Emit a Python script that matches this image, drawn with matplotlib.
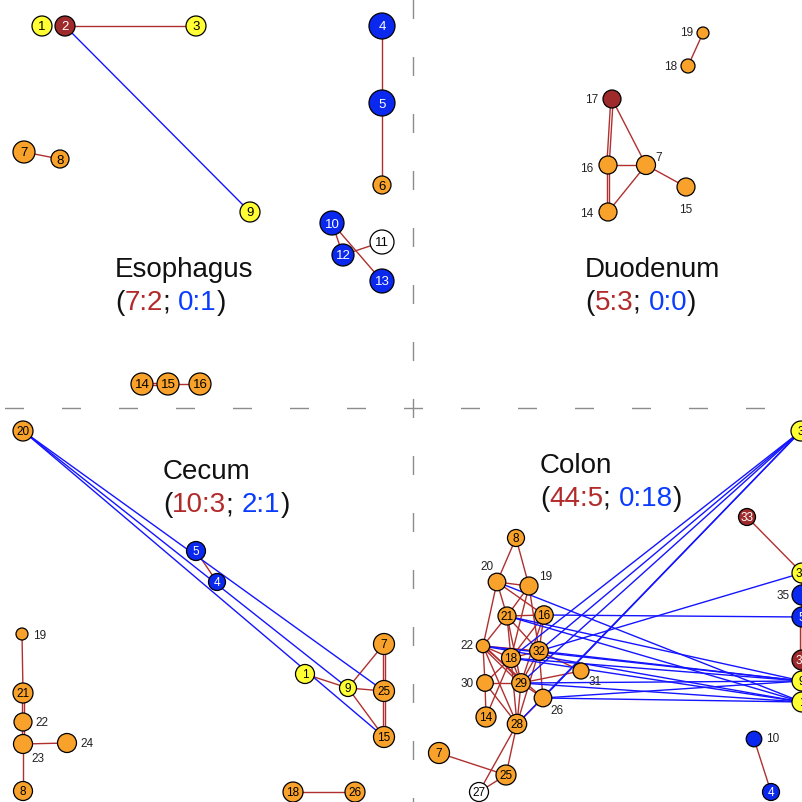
import matplotlib
matplotlib.use("Agg")
import matplotlib.pyplot as plt
import numpy as np

plt.rcParams['font.family'] = ['Liberation Sans', 'DejaVu Sans']
plt.rcParams['lines.scale_dashes'] = False

# ---------------- data ----------------
# node type codes: Y yellow, R dark red, B blue, O orange, W white
# ---- Esophagus ----
eso_ids = [1, 2, 3, 4, 5, 6, 7, 8, 9, 10, 11, 12, 13, 14, 15, 16]
eso_x = [42, 65, 196, 382, 382, 382, 24, 60, 250, 332, 382, 343, 382, 142, 168, 200]
eso_y = [27, 27, 27, 27, 104, 186, 153, 160, 213, 224, 243, 256, 282, 385, 385, 385]
eso_type = ['Y', 'R', 'Y', 'B', 'B', 'O', 'O', 'O', 'Y', 'B', 'W', 'B', 'B', 'O', 'O', 'O']
eso_radius = [10, 10, 10, 13, 13, 9, 11, 9, 10, 12, 12, 11, 12, 11, 11, 11]
eso_red = [(2, 3, 1), (4, 5, 1), (5, 6, 1), (7, 8, 1), (10, 12, 1), (10, 13, 1),
           (12, 11, 1), (14, 15, 2), (15, 16, 1)]
eso_blue = [(2, 9, 1)]
eso_name = 'Esophagus'
eso_counts = ['7:2', '0:1']

# ---- Duodenum ----
duo_ids = [19, 18, 17, 16, 7, 15, 14]
duo_x = [703, 688, 612, 608, 646, 686, 608]
duo_y = [34, 67, 100, 166, 166, 188, 213]
duo_type = ['O', 'O', 'R', 'O', 'O', 'O', 'O']
duo_radius = [6, 7, 9, 9, 9.5, 9, 9]
duo_red = [(19, 18, 1), (17, 16, 2), (17, 7, 1), (16, 7, 1), (16, 14, 2), (7, 14, 1), (7, 15, 1)]
duo_blue = []
duo_name = 'Duodenum'
duo_counts = ['5:3', '0:0']

# ---- Cecum ----
cec_ids = [20, 5, 4, 1, 9, 7, 25, 15, 19, 21, 22, 23, 24, 8, 18, 26]
cec_x = [23, 196, 217, 305, 348, 384, 384, 384, 22, 23, 23, 23, 67, 23, 293, 355]
cec_y = [432, 552, 583, 675, 689, 645, 692, 738, 635, 694, 723, 745, 744, 792, 793, 793]
cec_type = ['O', 'B', 'B', 'Y', 'Y', 'O', 'O', 'O', 'O', 'O', 'O', 'O', 'O', 'O', 'O', 'O']
cec_radius = [10, 9.5, 8.5, 9.5, 8.5, 10.5, 10.5, 10.5, 6, 10, 9, 9.5, 9.5, 9.5, 10, 10]
cec_red = [(4, 5, 1), (1, 9, 1), (9, 7, 1), (9, 25, 1), (9, 15, 1), (7, 25, 2), (25, 15, 2),
           (19, 21, 1), (21, 22, 2), (22, 23, 2), (23, 24, 1), (23, 8, 1), (18, 26, 1)]
cec_blue = [(20, 25, 1), (20, 9, 1), (20, 15, 1)]
cec_name = 'Cecum'
cec_counts = ['10:3', '2:1']

# ---- Colon ----
col_ids = [8, 20, 19, 21, 16, 22, 18, 32, 31, 30, 29, 26, 14, 28, 7, 25, 27,
           33, 3, 34, 35, 5, 36, 9, 1, 10, 4]
col_x = [516, 497, 529, 507, 544, 483, 511, 539, 581, 485, 521, 543, 486, 517, 439, 506, 479,
         747, 801, 802, 802, 802, 802, 802, 802, 754, 771]
col_y = [539, 583, 587, 617, 616, 647, 659, 652, 672, 684, 684, 699, 718, 725, 754, 776, 793,
         518, 432, 574, 596, 618, 661, 682, 703, 740, 793]
col_type = ['O', 'O', 'O', 'O', 'O', 'O', 'O', 'O', 'O', 'O', 'O', 'O', 'O', 'O', 'O', 'O', 'W',
            'R', 'Y', 'Y', 'B', 'B', 'R', 'Y', 'Y', 'B', 'B']
col_radius = [8.5, 8.8, 9, 9, 9.2, 6.7, 9.5, 9.3, 8, 8.3, 9.3, 8.8, 10, 9.7, 10.5, 10, 9.5,
              8.5, 10, 10, 10, 10, 10, 10, 10, 7.8, 8.5]
col_red = [(8, 20, 1), (8, 19, 1), (20, 19, 1), (20, 21, 1), (20, 22, 1), (20, 16, 1),
           (19, 21, 1), (19, 18, 1), (19, 32, 1), (21, 16, 1), (21, 22, 1), (21, 18, 1),
           (21, 32, 1), (21, 29, 1), (16, 32, 1), (16, 18, 1), (16, 29, 1), (22, 18, 1),
           (22, 32, 1), (22, 29, 2), (22, 30, 1), (22, 26, 1), (22, 28, 1), (18, 32, 1),
           (18, 30, 1), (18, 29, 1), (18, 28, 1), (18, 14, 1), (32, 31, 1), (32, 29, 1),
           (32, 28, 1), (32, 26, 1), (29, 30, 1), (29, 31, 1), (29, 28, 1), (29, 26, 1),
           (30, 14, 1), (30, 28, 1), (28, 25, 1), (28, 27, 1), (28, 26, 1), (7, 25, 1),
           (25, 27, 1), (33, 34, 1), (34, 35, 2), (35, 5, 2), (5, 36, 3), (36, 9, 2),
           (9, 1, 2), (10, 4, 1)]
col_blue = [(3, 18, 1), (3, 32, 1), (3, 29, 1), (3, 26, 1), (3, 28, 1), (32, 34, 1),
            (16, 5, 1), (20, 1, 1), (21, 9, 1), (21, 1, 1), (22, 9, 1), (22, 1, 1),
            (18, 9, 1), (18, 1, 1), (32, 9, 1), (29, 9, 1), (29, 1, 1), (26, 1, 1), (26, 9, 1)]
col_name = 'Colon'
col_counts = ['44:5', '0:18']

# ---------------- style ----------------
FILL = {'Y': '#FFFF33', 'R': '#9E2A2B', 'B': '#0A28EE', 'O': '#F8A22C', 'W': '#FFFFFF'}
TXT = {'Y': 'black', 'R': 'white', 'B': 'white', 'O': 'black', 'W': 'black'}
RED_EDGE = '#B03030'
BLUE_EDGE = '#1414FF'
RED_TXT = '#B22A2A'
BLUE_TXT = '#0A3CFF'
PX2PT = 0.72

fig = plt.figure(figsize=(8.03, 8.03), dpi=100)
ax = fig.add_axes([0, 0, 1, 1])
ax.set_xlim(0, 803)
ax.set_ylim(803, 0)
ax.axis('off')

# separators drawn outward from the centre
cx, cy = 413, 409
dash_on, dash_off = 19 * PX2PT, 38 * PX2PT
for ex, ey in [(cx, -20), (cx, 830), (-20, cy), (830, cy)]:
    ax.plot([cx, ex], [cy, ey], color='#8C8C8C', lw=1.0,
            linestyle=(dash_on / 2, (dash_on, dash_off)), zorder=0, solid_capstyle='butt')


def draw_panel(ids, xs, ys, types, radii, red, blue, fs, outside):
    pos = {i: (x, y) for i, x, y in zip(ids, xs, ys)}
    for edges, col, z in [(red, RED_EDGE, 1), (blue, BLUE_EDGE, 2)]:
        for a, b, m in edges:
            (x1, y1), (x2, y2) = pos[a], pos[b]
            L = np.hypot(x2 - x1, y2 - y1)
            nx, ny = -(y2 - y1) / L, (x2 - x1) / L
            for k in range(m):
                off = (k - (m - 1) / 2) * 2.4
                ax.plot([x1 + nx * off, x2 + nx * off], [y1 + ny * off, y2 + ny * off],
                        color=col, lw=1.0, zorder=z, solid_capstyle='butt')
    ax.scatter(xs, ys, s=[(2 * r * PX2PT) ** 2 for r in radii],
               c=[FILL[t] for t in types], edgecolors='black', linewidths=0.9, zorder=3)
    for i, x, y, t in zip(ids, xs, ys, types):
        if i in outside:
            dx, dy, ha = outside[i]
            ax.text(x + dx, y + dy, str(i), fontsize=fs, ha=ha, va='center',
                    color='#222222', zorder=4)
        else:
            ax.text(x, y + 0.5, str(i), fontsize=fs, ha='center', va='center',
                    color=TXT[t], zorder=4)


def draw_title(x, y, name, counts, fs=20):
    ax.text(x, y, name, fontsize=fs, ha='left', va='baseline', color='#111111')
    pieces = [('(', '#111111'), (counts[0], RED_TXT), ('; ', '#111111'),
              (counts[1], BLUE_TXT), (')', '#111111')]
    t = ax.text(x, y + 33, pieces[0][0], fontsize=fs, ha='left', va='baseline',
                color=pieces[0][1])
    for s, c in pieces[1:]:
        t = ax.annotate(s, xycoords=t, xy=(1, 0), va='bottom', ha='left',
                        fontsize=fs, color=c)


draw_panel(eso_ids, eso_x, eso_y, eso_type, eso_radius, eso_red, eso_blue, 9.5, {})
draw_panel(duo_ids, duo_x, duo_y, duo_type, duo_radius, duo_red, duo_blue, 8.5,
           {19: (-10, -1, 'right'), 18: (-11, 0, 'right'), 17: (-14, 0, 'right'),
            16: (-15, 3, 'right'), 7: (9, -8, 'left'), 15: (0, 22, 'center'),
            14: (-15, 1, 'right')})
draw_panel(cec_ids, cec_x, cec_y, cec_type, cec_radius, cec_red, cec_blue, 8.5,
           {19: (11, 1, 'left'), 22: (12, 0, 'left'), 24: (13, 0, 'left'),
            23: (8, 14, 'left')})
draw_panel(col_ids, col_x, col_y, col_type, col_radius, col_red, col_blue, 8.5,
           {20: (-10, -16, 'center'), 19: (17, -10, 'center'), 22: (-10, -1, 'right'),
            30: (-11, 0, 'right'), 31: (14, 10, 'center'), 26: (14, 12, 'center'),
            10: (12, -1, 'left'), 35: (-12, 0, 'right')})

draw_title(115, 277, eso_name, eso_counts)
draw_title(585, 277, duo_name, duo_counts)
draw_title(163, 479, cec_name, cec_counts)
draw_title(540, 473, col_name, col_counts)

fig.savefig('out.png', dpi=100)
